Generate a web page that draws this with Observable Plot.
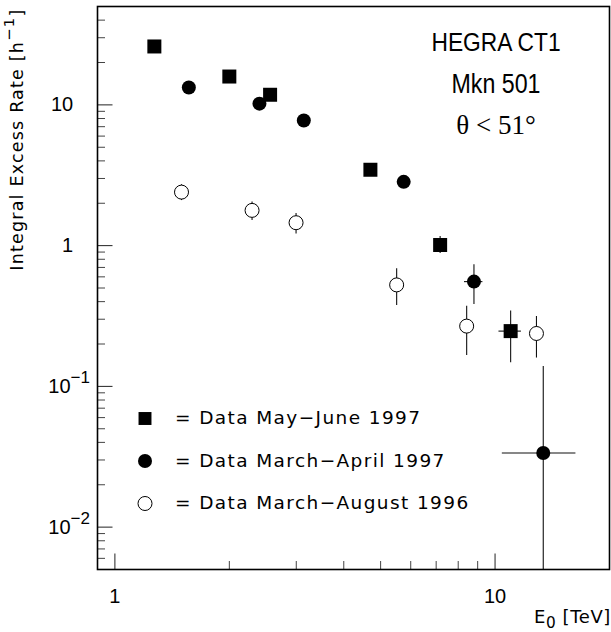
<!DOCTYPE html>
<html><head><meta charset="utf-8">
<script src="https://cdn.jsdelivr.net/npm/d3@7"></script>
<script src="https://cdn.jsdelivr.net/npm/@observablehq/plot@0.6"></script>
<style>html,body{margin:0;padding:0;background:#fff}#chart svg{display:block}</style>
</head><body><div id="chart"></div>
<script>
// ---- data: Mkn 501, HEGRA CT1, integral excess rate vs energy threshold ----
// May–June 1997 (filled squares)
const mj97Energy = [1.27, 2.0, 2.56, 4.70, 7.17, 10.99];
const mj97Rate   = [26.0, 15.9, 11.8, 3.46, 1.01, 0.247];
const mj97Low    = [25.2, 15.4, 11.4, 3.30, 0.88, 0.147];
const mj97High   = [26.8, 16.4, 12.2, 3.62, 1.16, 0.343];
const mj97ELow   = [null, null, null, null, null, 10.24];
const mj97EHigh  = [null, null, null, null, null, 11.73];
// March–April 1997 (filled circles)
const ma97Energy = [1.565, 2.40, 3.14, 5.75, 8.80, 13.39];
const ma97Rate   = [13.3, 10.2, 7.74, 2.84, 0.555, 0.0336];
const ma97Low    = [12.8, 9.8, 7.4, 2.70, 0.382, 0.005];
const ma97High   = [13.8, 10.6, 8.1, 2.98, 0.73, 0.1386];
const ma97ELow   = [null, null, null, null, 8.31, 10.45];
const ma97EHigh  = [null, null, null, null, 9.29, 16.32];
// March–August 1996 (open circles)
const ma96Energy = [1.497, 2.295, 2.996, 5.51, 8.42, 12.85];
const ma96Rate   = [2.40, 1.78, 1.455, 0.526, 0.268, 0.2376];
const ma96Low    = [2.09, 1.51, 1.21, 0.375, 0.166, 0.159];
const ma96High   = [2.71, 2.04, 1.69, 0.684, 0.371, 0.3137];

// axes
const xMajorTicks = [1, 10];
const xMinorTicks = [2, 3, 4, 5, 6, 7, 8, 9];
const xTickLabels = ["1", "10"];
const yMajorTicks = [0.01, 0.1, 1, 10];
const yMinorTicks = [0.006, 0.007, 0.008, 0.009, 0.02, 0.03, 0.04, 0.05, 0.06, 0.07, 0.08, 0.09,
                     0.2, 0.3, 0.4, 0.5, 0.6, 0.7, 0.8, 0.9, 2, 3, 4, 5, 6, 7, 8, 9, 20, 30, 40];
const yTickLabels = ["10^{−2}", "10^{−1}", "1", "10"];
const xTitle = "E_{0} [TeV]";
const yTitle = "Integral Excess Rate [h^{−1}]";
const titleLines = ["HEGRA CT1", "Mkn 501"];
const cutLabel = "θ < 51°";
const legendLabels = ["= Data May−June 1997", "= Data March−April 1997", "= Data March−August 1996"];
const legendSymbols = ["square", "circle", "circle"];
const legendFills = ["black", "black", "white"];

// ---- build tables ----
function rows(E, R, L, H, EL, EH) {
  return E.map((e, i) => ({e, rate: R[i], lo: L[i], hi: H[i], elo: EL ? EL[i] : null, ehi: EH ? EH[i] : null}));
}
const mj97 = rows(mj97Energy, mj97Rate, mj97Low, mj97High, mj97ELow, mj97EHigh);
const ma97 = rows(ma97Energy, ma97Rate, ma97Low, ma97High, ma97ELow, ma97EHigh);
const ma96 = rows(ma96Energy, ma96Rate, ma96Low, ma96High, null, null);

// ---- layout ----
const W = 611, H = 632;
const ML = 97, MR = 2, MT = 6, MB = 63;
const PW = W - ML - MR, PH = H - MT - MB;
const R_CIRCLE = 7, R_SQUARE = 7.9;

const errV = (d) => Plot.ruleX(d, {x: "e", y1: "lo", y2: "hi", stroke: "#111", strokeWidth: 1.1});
const errH = (d) => Plot.ruleY(d.filter(r => r.elo != null), {y: "rate", x1: "elo", x2: "ehi", stroke: "#111", strokeWidth: 1.1});

const legendMarks = [];
legendLabels.forEach((lab, i) => {
  const dy = 412 + i * 42.5;
  legendMarks.push(Plot.dot([lab], {frameAnchor: "top-left", dx: 47.5, dy, symbol: legendSymbols[i],
    r: legendSymbols[i] === "square" ? 7.3 : R_CIRCLE, fill: legendFills[i], stroke: "black", strokeWidth: legendFills[i] === "white" ? 1 : 0}));
  legendMarks.push(Plot.text([lab], {frameAnchor: "top-left", dx: 77.5, dy, text: d => d, textAnchor: "start",
    lineAnchor: "middle", fontSize: 18.5, fontFamily: "DejaVu Sans", fill: "black"}));
});

const chart = Plot.plot({
  width: W, height: H,
  marginLeft: ML, marginRight: MR, marginTop: MT, marginBottom: MB,
  x: {type: "log", domain: [0.9, 20], axis: null},
  y: {type: "log", domain: [0.005, 50], axis: null},
  style: {background: "white", fontFamily: "DejaVu Sans", overflow: "visible", color: "black"},
  marks: [
    // ticks (inside the frame)
    Plot.tickY(yMajorTicks, {y: d => d, insetRight: PW - 15.5, stroke: "#222", strokeWidth: 1}),
    Plot.tickY(yMinorTicks, {y: d => d, insetRight: PW - 8, stroke: "#444", strokeWidth: 1}),
    Plot.tickX(xMajorTicks, {x: d => d, insetTop: PH - 15.5, stroke: "#222", strokeWidth: 1}),
    Plot.tickX(xMinorTicks, {x: d => d, insetTop: PH - 8, stroke: "#444", strokeWidth: 1}),
    // error bars
    errV(mj97), errH(mj97), errV(ma97), errH(ma97), errV(ma96),
    // points
    Plot.dot(mj97, {x: "e", y: "rate", symbol: "square", r: R_SQUARE, fill: "black"}),
    Plot.dot(ma97, {x: "e", y: "rate", symbol: "circle", r: R_CIRCLE, fill: "black"}),
    Plot.dot(ma96, {x: "e", y: "rate", symbol: "circle", r: R_CIRCLE, fill: "white", stroke: "black", strokeWidth: 1}),
    Plot.frame({stroke: "black", strokeWidth: 1.6}),
    // tick labels
    Plot.text(yMajorTicks, {y: d => d, text: (d, i) => yTickLabels[i], filter: (d, i) => !yTickLabels[i].includes("^"),
      frameAnchor: "left", textAnchor: "end", lineAnchor: "middle", dx: -24.3, fontSize: 20, fontFamily: "Liberation Sans", fill: "black"}),
    Plot.text(yMajorTicks, {y: d => d, text: (d, i) => yTickLabels[i], filter: (d, i) => yTickLabels[i].includes("^"),
      frameAnchor: "left", textAnchor: "end", lineAnchor: "middle", dx: -7.5, fontSize: 20, fontFamily: "Liberation Sans", fill: "black"}),
    Plot.text(xMajorTicks, {x: d => d, text: (d, i) => xTickLabels[i], frameAnchor: "bottom", lineAnchor: "middle",
      dy: 27, fontSize: 20, fontFamily: "Liberation Sans", fill: "black"}),
    // axis titles
    Plot.text([xTitle], {text: d => d, frameAnchor: "bottom-right", textAnchor: "end", lineAnchor: "bottom",
      dx: 1.5, dy: 53.5, fontSize: 18, fontFamily: "DejaVu Sans", fill: "black"}),
    Plot.text([yTitle], {text: d => d, frameAnchor: "top-left", rotate: -90, textAnchor: "end", lineAnchor: "bottom",
      dx: 22.7 - ML, dy: 2, fontSize: 17.5, fontFamily: "DejaVu Sans", fill: "black"}),
    // annotation
    Plot.text([titleLines[0]], {text: d => d, frameAnchor: "top", dx: 142.5, dy: 44, lineAnchor: "bottom",
      fontSize: 26.5, fontFamily: "Liberation Sans", fill: "black"}),
    Plot.text([titleLines[1]], {text: d => d, frameAnchor: "top", dx: 142.5, dy: 86.5, lineAnchor: "bottom",
      fontSize: 27, fontFamily: "Liberation Sans", fill: "black"}),
    Plot.text([cutLabel], {text: d => d, frameAnchor: "top", dx: 142.5, dy: 127, lineAnchor: "bottom",
      fontSize: 27, fontFamily: "Liberation Serif", fill: "black"}),
    ...legendMarks
  ]
});
document.getElementById("chart").appendChild(chart);

// per-text styling (matched by content, before rich-text conversion)
for (const t of chart.querySelectorAll("text")) {
  const s = t.textContent;
  if (legendLabels.includes(s)) t.style.letterSpacing = "1.4px";
  if (s === yTitle) t.style.letterSpacing = "1.2px";
  if (s === xTitle) t.style.letterSpacing = "0.6px";
  if (titleLines.includes(s)) t.setAttribute("transform", t.getAttribute("transform") + " scale(0.86,1)");
}

// superscripts / subscripts written as ^{..} and _{..}
const NS = "http://www.w3.org/2000/svg";
for (const t of chart.querySelectorAll("text")) {
  const s = t.textContent;
  if (t.children.length || !/[\^_]\{/.test(s)) continue;
  const fs = parseFloat(getComputedStyle(t).fontSize) || 16;
  t.textContent = "";
  let cur = 0;
  for (const p of s.split(/([\^_]\{[^}]*\})/)) {
    if (!p) continue;
    const m = /^([\^_])\{([^}]*)\}$/.exec(p);
    const ts = document.createElementNS(NS, "tspan");
    const target = m ? (m[1] === "^" ? -0.5 * fs : 0.25 * fs) : 0;
    if (target !== cur) ts.setAttribute("dy", target - cur);
    cur = target;
    if (m) ts.setAttribute("font-size", 0.85 * fs);
    ts.textContent = m ? m[2] : p;
    t.appendChild(ts);
  }
}
</script>
</body></html>
